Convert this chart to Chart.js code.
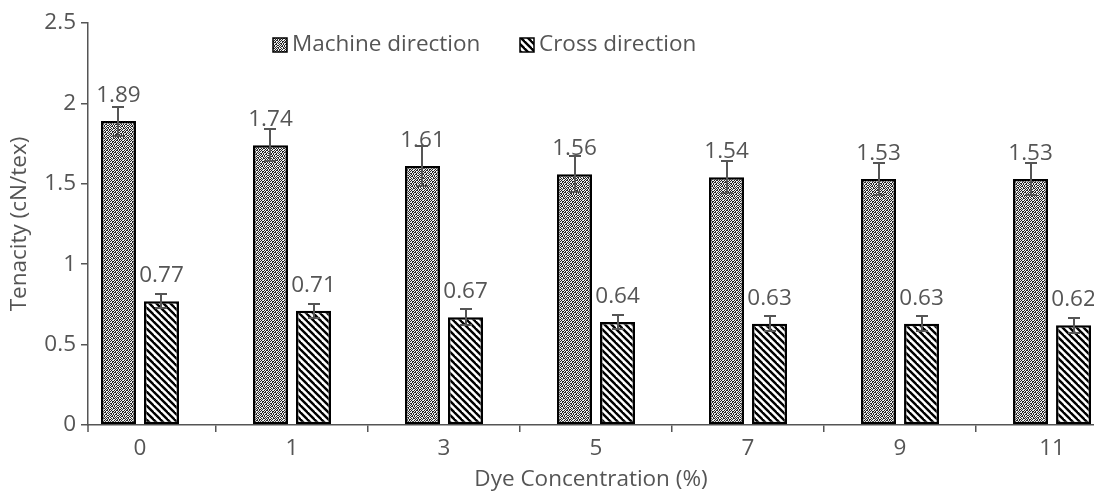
<!DOCTYPE html>
<html>
<head>
<meta charset="utf-8">
<script src="https://cdn.jsdelivr.net/npm/chart.js@4.4.1/dist/chart.umd.min.js"></script>
<style>
  html, body { margin: 0; padding: 0; background: #fff; }
  #wrap { width: 1094px; height: 493px; }
</style>
</head>
<body>
<div id="wrap"><canvas id="c" width="1094" height="493"></canvas></div>
<script>
// Tenacity of dyed nonwoven fabric vs. dye concentration
const categories = ['0', '1', '3', '5', '7', '9', '11'];
const categoryIndex = [0, 1, 2, 3, 4, 5, 6];
const machineValues = [1.89, 1.74, 1.61, 1.56, 1.54, 1.53, 1.53];
const crossValues = [0.77, 0.71, 0.67, 0.64, 0.63, 0.63, 0.62];
const machineErr = [0.09, 0.10, 0.125, 0.11, 0.10, 0.10, 0.10];
const crossErr = [0.045, 0.045, 0.05, 0.045, 0.045, 0.045, 0.045];
const yTicks = [0, 0.5, 1, 1.5, 2, 2.5];
const seriesNames = ['Machine direction', 'Cross direction'];

const FONT = '"Open Sans", Lato, sans-serif';
const FSIZE = 22.5;
const TEXT = '#555555';
const AXIS = '#555555';

const canvas = document.getElementById('c');
const ctx0 = canvas.getContext('2d');

// speckled fill for the machine-direction bars
function stipplePattern(ctx) {
  const rows = ['1011010010', '0100101101', '1101001010', '0010110101',
                '1010100110', '0101011001', '1001010110', '0110101001',
                '1010010101', '0101101010'];
  const n = rows.length;
  const t = document.createElement('canvas');
  t.width = n; t.height = n;
  const g = t.getContext('2d');
  g.fillStyle = '#262626';
  g.fillRect(0, 0, n, n);
  g.fillStyle = '#f0f0f0';
  rows.forEach((r, yy) => [...r].forEach((b, xx) => { if (b === '1') g.fillRect(xx, yy, 1, 1); }));
  return ctx.createPattern(t, 'repeat');
}

// diagonal hatch for the cross-direction bars
function stripePattern(ctx) {
  const p = 7;
  const t = document.createElement('canvas');
  t.width = p; t.height = p;
  const g = t.getContext('2d');
  g.fillStyle = '#ffffff';
  g.fillRect(0, 0, p, p);
  g.strokeStyle = '#000000';
  g.lineWidth = 2.4;
  for (let k = -1; k <= 1; k++) {
    g.beginPath();
    g.moveTo(k * p - 1, -1);
    g.lineTo(k * p + p + 1, p + 1);
    g.stroke();
  }
  return ctx.createPattern(t, 'repeat');
}

const fills = [stipplePattern(ctx0), stripePattern(ctx0)];

const annotate = {
  id: 'annotate',
  afterDatasetsDraw(chart) {
    const { ctx, scales: { y } } = chart;
    const valueSets = [machineValues, crossValues];
    const errSets = [machineErr, crossErr];
    ctx.save();
    // value labels above bars
    ctx.font = FSIZE + 'px ' + FONT;
    ctx.fillStyle = TEXT;
    ctx.textAlign = 'center';
    ctx.textBaseline = 'alphabetic';
    valueSets.forEach((vals, di) => {
      chart.getDatasetMeta(di).data.forEach((bar, i) => {
        ctx.fillText(vals[i].toFixed(2), bar.x, bar.y - 19);
      });
    });
    // error bars
    ctx.strokeStyle = AXIS;
    ctx.lineWidth = 2;
    valueSets.forEach((vals, di) => {
      chart.getDatasetMeta(di).data.forEach((bar, i) => {
        const yt = Math.round(y.getPixelForValue(vals[i] + errSets[di][i]));
        const yb = Math.round(y.getPixelForValue(vals[i] - errSets[di][i]));
        const cx = Math.round(bar.x);
        ctx.beginPath();
        ctx.moveTo(cx, yt); ctx.lineTo(cx, yb);
        ctx.moveTo(cx - 6, yt); ctx.lineTo(cx + 6, yt);
        ctx.moveTo(cx - 6, yb); ctx.lineTo(cx + 6, yb);
        ctx.stroke();
      });
    });
    // small tick below the axis origin
    const ca = chart.chartArea;
    ctx.lineWidth = 1.5;
    ctx.beginPath();
    ctx.moveTo(ca.left, ca.bottom);
    ctx.lineTo(ca.left, ca.bottom + 7);
    ctx.stroke();
    ctx.restore();
  },
  afterDraw(chart) {
    const { ctx } = chart;
    const items = [
      { box: 273, text: 292 },
      { box: 520, text: 539 }
    ];
    ctx.save();
    ctx.font = FSIZE + 'px ' + FONT;
    ctx.textBaseline = 'middle';
    ctx.textAlign = 'left';
    items.forEach((it, i) => {
      ctx.fillStyle = fills[i];
      ctx.fillRect(it.box, 38, 14, 14);
      ctx.strokeStyle = '#000';
      ctx.lineWidth = 1.5;
      ctx.strokeRect(it.box, 38, 14, 14);
      ctx.fillStyle = TEXT;
      ctx.fillText(seriesNames[i], it.text, 45);
    });
    ctx.restore();
  }
};

new Chart(canvas, {
  type: 'bar',
  data: {
    datasets: [
      {
        label: seriesNames[0],
        data: categoryIndex.map((x, i) => ({ x, y: machineValues[i] })),
        backgroundColor: fills[0],
        borderColor: '#000',
        borderWidth: 2.5,
        borderSkipped: false
      },
      {
        label: seriesNames[1],
        data: categoryIndex.map((x, i) => ({ x, y: crossValues[i] })),
        backgroundColor: fills[1],
        borderColor: '#000',
        borderWidth: 2.5,
        borderSkipped: false
      }
    ]
  },
  options: {
    responsive: false,
    animation: false,
    categoryPercentage: 0.566,
    barPercentage: 0.814,
    layout: { padding: { top: 23, right: 0, left: 0, bottom: 0 } },
    plugins: { legend: { display: false }, tooltip: { enabled: false } },
    scales: {
      x: {
        type: 'linear',
        offset: false,
        min: -0.342,
        max: 6.276,
        afterBuildTicks(scale) { scale.ticks = categoryIndex.map(v => ({ value: v })); },
        afterFit(scale) { scale.height = 68; },
        ticks: {
          callback: (v, i) => categories[i],
          font: { family: FONT, size: FSIZE },
          color: TEXT,
          padding: 3,
          maxRotation: 0,
          autoSkip: false
        },
        grid: {
          offset: true,
          drawOnChartArea: false,
          drawTicks: true,
          tickLength: 7,
          color: AXIS,
          lineWidth: 1.5
        },
        border: { color: AXIS, width: 1.5 },
        title: {
          display: true,
          text: 'Dye Concentration (%)',
          font: { family: FONT, size: FSIZE },
          color: TEXT,
          padding: { top: 0, bottom: 0 }
        }
      },
      y: {
        min: 0,
        max: 2.5,
        afterBuildTicks(scale) { scale.ticks = yTicks.map(v => ({ value: v })); },
        afterFit(scale) { scale.width = 88; },
        ticks: {
          callback: v => String(v),
          font: { family: FONT, size: FSIZE },
          color: TEXT,
          padding: 5
        },
        grid: {
          drawOnChartArea: false,
          drawTicks: true,
          tickLength: 7,
          color: AXIS,
          lineWidth: 1.5
        },
        border: { color: AXIS, width: 1.5 },
        title: {
          display: true,
          text: 'Tenacity (cN/tex)',
          font: { family: FONT, size: FSIZE },
          color: TEXT,
          padding: { top: 6, bottom: 0 }
        }
      }
    }
  },
  plugins: [annotate]
});
</script>
</body>
</html>
